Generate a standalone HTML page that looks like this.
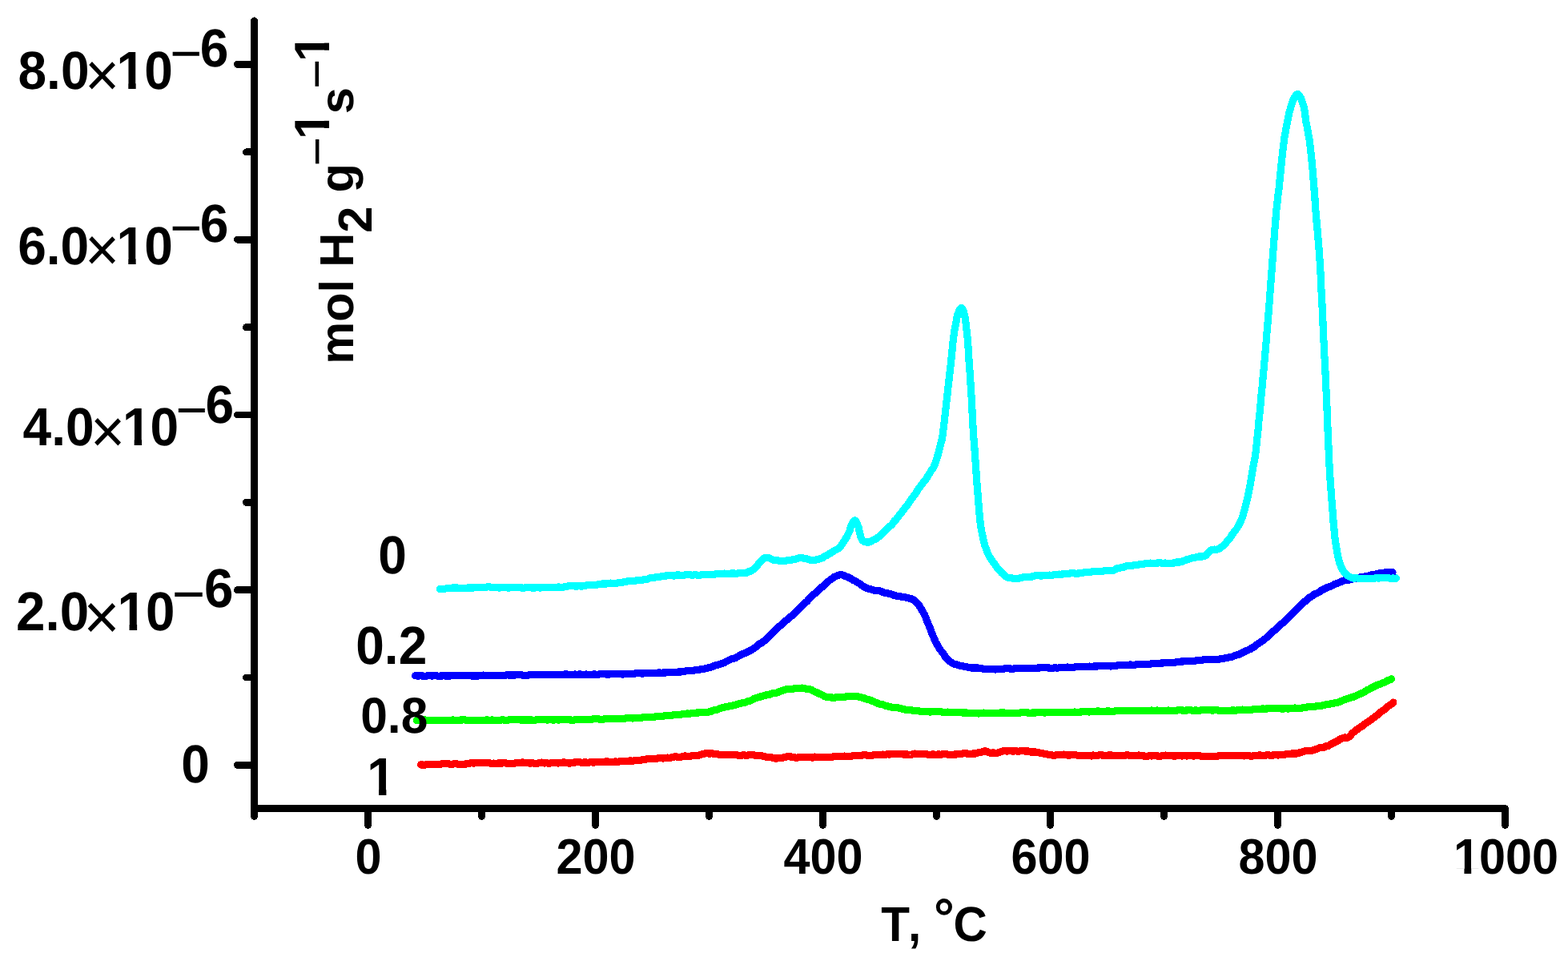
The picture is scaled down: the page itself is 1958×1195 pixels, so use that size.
<!DOCTYPE html>
<html lang="en"><head><meta charset="utf-8"><title>Chart</title>
<style>html,body{margin:0;padding:0;background:#fff;overflow:hidden}svg{display:block}text{font-family:"Liberation Sans",Arial,Helvetica,sans-serif;font-weight:bold;fill:#000;text-rendering:geometricPrecision;white-space:pre}.r{font-weight:normal}.ax{stroke:#000;stroke-width:8.8;stroke-linecap:round;stroke-linejoin:round;fill:none;shape-rendering:crispEdges}.cv{stroke-width:9.2;stroke-linecap:round;stroke-linejoin:round;fill:none;shape-rendering:crispEdges}.k{fill:#fff}</style></head><body>
<svg width="1958" height="1195" viewBox="0 0 1958 1195">
<rect width="1958" height="1195" fill="#fff"/>
<g id="curves">
<path class="cv" stroke="#f00" d="M525.5,954.9L527.1,954.9 529.0,955.4 531.1,955.0 533.5,954.8 536.0,954.8 538.8,954.2 541.6,954.4 544.7,954.5 547.8,954.8 551.1,953.9 554.5,953.8 557.9,953.4 561.4,954.1 564.9,954.2 568.4,953.4 571.9,954.2 575.4,954.5 578.8,954.2 582.2,954.0 585.5,953.2 588.7,952.7 591.7,953.1 594.7,952.6 597.4,952.5 600.0,952.5 603.6,952.2 607.0,952.6 610.3,952.7 613.5,953.3 616.5,953.1 619.5,953.2 622.3,953.0 625.1,953.1 627.9,952.9 630.6,952.6 633.3,953.3 636.0,953.7 638.8,953.6 641.5,953.4 644.3,952.8 647.1,952.4 650.0,952.3 652.9,951.9 655.9,952.7 658.8,952.5 661.8,953.1 664.7,952.7 667.6,953.3 670.6,953.4 673.5,952.3 676.5,952.1 679.4,953.0 682.4,952.8 685.3,953.3 688.2,952.8 691.2,952.2 694.1,952.6 697.1,953.0 700.0,952.5 702.9,952.0 705.9,952.1 708.8,952.9 711.8,953.0 714.7,952.2 717.6,952.0 720.6,951.7 723.5,951.5 726.5,952.3 729.4,951.9 732.4,952.1 735.3,952.1 738.2,951.7 741.2,952.2 744.1,951.5 747.1,951.9 750.0,951.3 753.0,951.4 756.0,951.0 759.1,950.9 762.2,951.7 765.3,951.7 768.4,951.0 771.6,951.4 774.7,950.6 777.7,950.3 780.8,950.8 783.8,950.6 786.7,949.7 789.6,950.4 792.3,949.5 795.0,949.1 797.6,949.5 800.0,949.1 803.8,948.6 807.4,947.9 810.6,947.4 813.6,947.7 816.5,947.2 819.3,947.3 822.0,946.9 824.8,946.6 827.6,947.0 830.6,946.4 833.7,946.1 836.8,946.3 840.0,945.3 843.2,944.7 846.3,945.4 849.5,945.4 852.5,944.5 855.6,943.9 858.5,944.3 861.3,944.5 864.7,943.4 867.9,943.6 871.1,943.4 874.1,942.6 877.1,941.8 880.0,940.9 882.9,940.2 885.8,941.1 888.9,940.7 891.9,941.3 894.7,941.2 897.5,942.1 900.5,942.4 903.7,942.3 907.2,942.2 909.9,942.9 912.8,942.3 915.8,942.3 919.0,942.7 922.2,943.3 925.4,943.2 928.6,942.8 931.8,943.4 934.9,942.9 937.9,942.5 941.2,942.8 944.4,943.4 947.7,943.4 950.9,943.8 954.0,944.5 957.1,945.2 960.1,945.2 962.9,945.6 965.5,946.5 968.9,947.1 971.8,946.8 974.5,946.5 977.1,946.2 980.1,945.3 983.8,944.7 986.4,944.5 989.1,945.6 992.1,945.8 995.2,946.3 998.4,945.2 1001.6,945.6 1004.9,945.6 1008.2,945.9 1011.4,945.4 1014.5,946.1 1017.6,945.1 1020.6,945.3 1023.7,945.5 1026.7,945.7 1029.8,945.5 1032.9,945.3 1035.9,945.2 1039.0,945.3 1042.0,944.5 1045.1,944.5 1048.2,944.8 1051.3,944.8 1054.5,944.1 1057.7,944.3 1060.8,944.4 1064.0,944.0 1067.1,943.8 1070.1,943.4 1073.0,943.4 1075.8,943.4 1079.0,942.6 1081.8,942.9 1084.4,943.4 1086.9,943.4 1089.6,943.1 1092.6,942.5 1096.0,942.6 1100.0,942.4 1102.4,942.1 1105.0,942.5 1107.8,941.6 1110.7,942.1 1113.7,941.4 1116.8,941.8 1120.0,941.8 1123.3,941.5 1126.6,941.9 1129.9,941.9 1133.2,942.0 1136.5,942.5 1139.7,941.8 1142.9,941.1 1146.0,941.2 1149.1,941.8 1152.2,941.4 1155.4,941.2 1158.6,942.1 1161.9,942.2 1165.1,941.9 1168.3,942.4 1171.5,941.9 1174.6,942.2 1177.7,941.6 1180.8,941.7 1183.7,942.2 1186.5,942.6 1189.3,942.7 1191.9,942.0 1195.7,941.9 1199.4,941.4 1203.0,940.8 1206.4,940.9 1209.6,941.2 1212.7,941.3 1215.6,941.0 1218.2,941.0 1220.5,940.1 1222.6,939.4 1226.8,938.9 1228.5,938.1 1230.2,937.7 1232.3,938.5 1234.4,939.8 1237.9,940.3 1240.0,939.9 1242.5,940.2 1245.2,940.2 1248.2,939.3 1251.3,938.1 1254.5,937.4 1257.8,938.1 1260.4,937.4 1263.1,937.9 1265.9,938.0 1268.7,937.7 1271.7,938.3 1274.6,937.6 1277.7,937.6 1280.8,938.1 1283.9,937.9 1286.7,939.0 1289.6,939.0 1292.5,939.0 1295.4,939.2 1298.4,940.3 1301.5,940.7 1304.6,941.4 1307.8,941.9 1311.1,942.5 1314.5,943.1 1317.2,943.1 1319.9,942.5 1322.6,942.7 1325.4,942.4 1328.3,942.1 1331.2,942.6 1334.1,943.2 1337.1,942.8 1340.1,942.7 1343.2,942.8 1346.3,943.3 1349.5,943.3 1352.8,943.5 1355.4,943.7 1357.9,943.4 1360.3,943.7 1362.7,944.0 1365.1,943.0 1367.5,943.7 1370.0,943.6 1372.5,942.8 1375.2,942.9 1378.0,943.1 1381.1,943.5 1384.3,943.0 1387.8,943.0 1391.5,943.4 1395.6,943.5 1400.0,943.8 1402.3,943.3 1404.8,943.3 1407.3,942.7 1410.0,943.2 1412.9,943.5 1415.8,943.5 1418.8,943.6 1421.9,943.0 1425.1,943.6 1428.4,944.0 1431.7,944.3 1435.1,943.8 1438.5,944.0 1441.9,943.4 1445.4,944.0 1448.8,944.2 1452.3,943.7 1455.7,943.1 1459.2,943.3 1462.6,943.6 1466.0,944.1 1469.3,943.9 1472.5,943.3 1475.7,944.0 1478.9,943.4 1481.9,944.1 1484.9,943.6 1487.7,943.6 1490.4,944.2 1493.0,943.7 1495.5,943.4 1497.8,943.8 1500.0,944.3 1505.0,944.6 1509.4,944.6 1513.2,944.8 1516.6,944.3 1519.6,944.7 1522.2,943.6 1524.7,943.3 1526.9,943.5 1529.1,943.2 1531.3,943.6 1533.4,943.6 1535.8,943.5 1538.3,943.8 1541.6,943.6 1544.8,943.2 1547.8,943.1 1550.7,943.7 1553.6,944.0 1556.5,943.3 1559.4,943.8 1562.4,944.2 1565.6,943.8 1568.9,943.6 1571.6,943.0 1574.4,943.1 1577.4,943.1 1580.4,943.2 1583.4,942.4 1586.5,943.3 1589.6,943.0 1592.7,942.7 1595.7,943.0 1598.7,942.7 1601.6,942.3 1604.5,942.3 1607.2,941.4 1610.6,941.3 1613.9,940.9 1617.2,941.1 1620.4,940.9 1623.5,939.6 1626.5,939.0 1629.5,937.9 1632.4,937.5 1635.2,937.6 1637.9,937.4 1641.2,936.2 1644.4,935.1 1647.4,934.0 1650.4,933.7 1653.2,933.4 1655.9,931.8 1658.4,931.5 1660.9,929.8 1664.0,928.3 1666.9,926.7 1669.5,925.7 1672.0,924.0 1674.2,922.6 1676.2,921.9 1679.3,920.8 1681.5,921.7 1683.8,920.6 1685.5,919.6 1687.2,917.5 1689.0,915.2 1691.5,913.3 1693.6,911.7 1696.0,909.9 1698.7,908.2 1701.4,906.5 1704.2,904.1 1706.8,902.1 1709.0,900.9 1711.3,899.4 1713.5,897.5 1715.8,896.1 1717.9,894.2 1720.1,892.7 1722.1,890.4 1724.9,888.7 1727.6,886.9 1730.1,885.3 1732.4,882.9 1734.4,881.1 1737.9,879.0 1739.8,877.0"/>
<path class="cv" stroke="#0f0" d="M520.4,899.4L522.0,899.3 523.7,898.9 525.6,899.6 527.7,899.2 530.0,898.9 532.3,899.3 534.9,899.2 537.5,899.6 540.3,899.2 543.2,899.6 546.1,899.3 549.2,899.3 552.3,899.6 555.6,899.6 558.9,899.7 562.2,899.6 565.6,898.9 569.0,899.4 572.5,899.3 575.9,899.0 579.4,898.8 582.9,899.2 586.4,899.2 589.8,899.5 593.3,899.5 596.6,899.6 600.0,899.3 602.8,899.3 605.6,899.2 608.5,898.9 611.5,899.3 614.5,899.0 617.6,899.2 620.8,899.5 623.9,899.3 627.2,898.8 630.4,899.2 633.7,899.2 637.0,898.8 640.3,898.5 643.6,898.7 646.9,898.4 650.2,899.1 653.5,899.0 656.8,899.0 660.0,898.9 663.3,899.0 666.5,899.3 669.6,898.9 672.7,898.8 675.8,898.9 678.8,898.7 681.7,898.9 684.6,898.9 687.4,898.8 690.1,899.0 692.7,898.9 695.2,898.5 697.7,899.1 700.0,898.8 704.2,898.7 708.2,898.6 711.8,899.0 715.2,899.2 718.4,898.9 721.3,898.6 724.2,898.2 726.8,898.7 729.4,898.3 731.9,898.4 734.4,898.2 736.8,898.1 739.3,898.1 741.8,897.8 744.4,897.6 747.1,897.9 750.0,898.2 753.0,898.1 756.0,897.6 759.1,897.8 762.2,897.3 765.3,897.3 768.4,897.6 771.6,897.7 774.7,897.3 777.7,897.4 780.8,897.0 783.8,896.8 786.7,896.7 789.6,897.0 792.3,896.8 795.0,896.4 797.6,896.4 800.0,896.3 803.8,895.8 807.4,895.9 810.6,895.8 813.6,895.6 816.5,895.6 819.3,894.7 822.0,894.7 824.8,894.6 827.6,894.2 830.6,893.8 833.7,893.9 836.9,893.5 840.0,893.0 843.2,892.4 846.4,892.8 849.6,892.3 852.7,891.6 855.7,891.3 858.5,891.0 861.3,891.2 864.5,890.6 867.6,890.3 870.5,889.9 873.3,889.9 876.0,889.5 878.7,889.3 881.5,889.3 884.3,889.2 887.2,888.7 890.0,887.3 892.9,886.5 895.7,886.1 898.6,884.7 901.5,883.8 904.3,883.2 907.2,882.4 910.1,882.0 913.1,881.5 916.2,880.7 919.2,879.8 922.1,879.0 925.0,878.3 927.7,877.5 930.2,877.2 933.8,875.8 936.9,875.0 939.7,873.7 942.6,872.0 945.5,871.1 948.5,870.4 951.3,869.2 954.2,868.8 957.3,867.7 960.9,867.3 963.4,866.1 966.1,865.6 968.9,865.2 971.9,864.3 974.9,862.9 977.9,862.0 980.9,861.0 983.8,860.4 986.7,860.5 989.8,860.3 992.9,859.4 996.0,859.3 999.0,859.4 1001.8,859.1 1004.4,859.7 1006.8,860.1 1010.7,860.7 1013.7,861.6 1016.4,863.3 1019.1,864.4 1021.9,865.5 1024.5,866.9 1027.1,868.1 1029.8,869.7 1032.6,870.3 1035.5,870.7 1038.6,871.0 1042.1,871.3 1044.8,870.6 1047.9,870.3 1051.1,870.4 1054.4,870.2 1057.5,869.7 1060.5,869.8 1063.8,869.5 1066.8,869.5 1069.8,869.6 1072.8,870.3 1075.8,870.8 1079.0,871.8 1082.2,873.2 1085.4,873.7 1088.4,874.9 1091.1,876.1 1093.7,877.2 1095.7,878.1 1100.0,879.7 1102.1,879.7 1104.6,880.8 1107.3,881.5 1110.3,882.4 1113.5,883.2 1116.8,883.3 1120.2,883.7 1123.6,884.3 1127.1,885.2 1130.6,886.2 1133.3,886.7 1136.1,886.7 1138.9,887.0 1141.8,887.4 1144.8,887.4 1147.8,888.0 1150.8,888.4 1153.8,888.5 1156.9,888.8 1159.9,888.9 1162.9,888.9 1165.9,888.7 1168.9,888.7 1171.8,888.7 1174.7,888.7 1177.6,889.5 1180.4,889.3 1183.3,889.1 1186.1,889.3 1189.0,889.2 1191.9,889.6 1194.8,889.7 1197.8,889.6 1200.9,889.9 1204.0,890.0 1207.2,890.0 1210.0,890.4 1212.9,890.2 1215.9,890.3 1218.9,890.7 1222.0,891.0 1225.0,890.6 1228.2,890.1 1231.3,890.7 1234.4,890.6 1237.6,890.3 1240.7,890.1 1243.9,890.1 1247.0,890.2 1250.1,890.0 1253.2,889.9 1256.3,890.6 1259.5,890.8 1262.6,890.2 1265.9,890.2 1269.1,890.5 1272.3,890.3 1275.6,889.8 1278.8,889.8 1281.9,889.8 1285.0,890.2 1288.0,890.1 1291.0,889.9 1293.8,889.9 1296.6,889.4 1299.2,889.7 1302.9,889.9 1306.3,889.9 1309.5,889.7 1312.5,889.5 1315.5,889.2 1318.3,889.1 1321.1,889.2 1323.9,889.5 1326.8,889.9 1329.8,889.5 1332.8,889.5 1335.8,889.6 1338.7,889.6 1341.7,889.0 1344.6,889.4 1347.6,889.2 1350.6,888.9 1353.8,888.6 1357.1,888.8 1360.5,889.0 1363.1,888.6 1365.5,888.4 1367.8,888.4 1370.0,888.0 1372.3,888.0 1374.7,888.4 1377.2,888.3 1380.0,888.4 1383.1,887.9 1386.6,888.2 1390.5,888.2 1395.0,887.7 1400.0,887.7 1402.2,887.8 1404.6,887.8 1407.1,887.8 1409.7,887.4 1412.5,887.6 1415.4,887.4 1418.3,887.7 1421.4,887.5 1424.6,887.9 1427.9,887.7 1431.2,887.3 1434.6,887.3 1438.0,887.0 1441.4,887.4 1444.9,887.0 1448.4,887.3 1451.9,887.1 1455.4,887.4 1458.9,887.0 1462.3,887.3 1465.7,887.4 1469.1,887.1 1472.4,886.8 1475.6,886.9 1478.8,887.2 1481.9,887.0 1484.8,886.6 1487.7,886.9 1490.4,887.3 1493.1,886.9 1495.5,887.4 1497.8,887.2 1500.0,886.9 1505.3,886.6 1509.8,886.8 1513.6,887.0 1516.8,886.9 1519.7,886.8 1522.2,887.1 1524.5,887.1 1526.7,887.3 1528.9,887.4 1531.2,887.6 1533.8,887.6 1536.8,887.2 1539.7,886.9 1542.7,887.3 1545.7,886.7 1548.6,886.4 1551.6,886.1 1554.6,886.5 1557.6,886.3 1560.7,886.4 1563.8,886.1 1566.9,885.6 1570.1,885.3 1573.3,885.4 1576.6,884.9 1579.5,885.2 1582.5,884.9 1585.6,884.4 1588.8,884.5 1592.0,884.6 1595.3,884.3 1598.5,884.8 1601.8,885.1 1605.0,884.8 1608.2,885.0 1611.3,884.8 1614.3,884.6 1617.2,884.0 1620.0,884.4 1622.6,884.5 1626.3,883.9 1629.8,883.5 1633.2,882.8 1636.3,882.8 1639.3,882.8 1642.2,882.2 1645.1,881.6 1647.8,881.4 1650.5,881.2 1653.2,880.3 1656.4,879.7 1659.5,879.4 1662.4,878.4 1665.2,878.3 1667.9,877.4 1670.6,877.1 1673.4,876.1 1676.2,874.9 1679.1,873.7 1682.1,872.6 1685.2,871.5 1688.2,870.8 1691.1,869.8 1694.0,868.5 1696.7,867.0 1699.2,866.1 1702.2,864.9 1704.9,863.3 1707.3,861.6 1709.7,860.6 1712.0,859.2 1714.5,857.9 1717.1,856.8 1719.9,855.3 1722.6,854.7 1725.3,853.3 1727.7,852.6 1729.8,851.7 1733.2,849.6 1735.8,848.9 1737.5,847.9"/>
<path class="cv" stroke="#00f" d="M518.6,843.8L520.2,843.9 522.1,844.1 524.2,843.7 526.6,843.9 529.1,844.2 531.8,844.3 534.7,843.7 537.7,843.9 540.9,843.9 544.1,843.8 547.5,844.2 550.9,844.0 554.4,843.8 557.9,844.1 561.5,844.0 565.1,843.7 568.6,843.5 572.2,843.6 575.7,843.2 579.1,843.6 582.5,843.8 585.7,843.7 588.9,844.0 591.9,844.1 594.8,843.9 597.5,843.9 600.0,843.4 603.8,843.1 607.3,843.8 610.7,843.4 613.9,843.2 617.0,843.7 620.0,843.8 622.8,843.3 625.6,843.2 628.3,843.1 631.0,843.1 633.6,842.8 636.3,843.1 638.9,843.0 641.6,843.1 644.3,842.9 647.1,842.7 650.0,842.6 652.9,843.2 655.9,843.4 658.8,843.2 661.8,842.8 664.7,842.6 667.6,842.4 670.6,842.5 673.5,842.3 676.5,842.3 679.4,842.2 682.4,842.2 685.3,842.5 688.2,842.5 691.2,842.5 694.1,842.3 697.1,842.4 700.0,842.6 702.9,842.3 705.9,841.9 708.8,842.1 711.8,842.1 714.7,842.5 717.6,842.0 720.6,842.5 723.5,841.9 726.5,842.2 729.4,842.2 732.4,842.0 735.3,842.5 738.2,842.5 741.2,842.0 744.1,842.1 747.1,842.2 750.0,841.7 753.0,841.5 756.0,841.9 759.1,842.1 762.2,841.9 765.3,841.8 768.4,841.7 771.6,841.5 774.7,841.8 777.7,842.0 780.8,841.7 783.8,841.1 786.7,841.1 789.6,841.4 792.3,841.1 795.0,840.7 797.6,840.5 800.0,840.9 803.8,840.9 807.4,840.5 810.6,840.5 813.6,840.6 816.5,840.7 819.3,840.5 822.0,840.0 824.8,840.1 827.6,840.1 830.6,840.0 833.7,839.7 836.9,839.4 840.0,839.2 843.2,839.3 846.4,839.1 849.6,839.0 852.7,838.5 855.7,838.0 858.5,837.8 861.3,837.8 864.5,837.5 867.6,836.8 870.5,836.2 873.3,836.4 876.0,835.3 878.7,835.2 881.5,834.7 884.3,833.8 887.2,833.4 890.0,832.4 892.9,830.9 895.7,830.5 898.6,829.3 901.5,828.6 904.3,827.6 907.2,825.9 910.1,824.4 912.9,823.0 915.8,822.4 918.7,821.4 921.6,819.7 924.4,818.1 927.3,816.7 930.2,815.6 932.8,814.3 935.5,813.0 938.2,811.6 940.8,809.9 943.5,808.2 946.1,805.8 948.6,803.8 951.0,802.8 953.2,801.2 955.8,799.0 958.1,796.7 960.3,794.7 962.3,792.7 964.4,790.9 966.4,788.9 968.5,786.7 970.7,784.5 972.9,782.5 975.1,780.5 977.2,778.5 979.4,776.8 981.6,774.7 983.8,773.2 986.0,771.3 988.2,769.3 990.4,767.5 992.6,765.2 994.8,763.0 997.0,760.9 999.2,759.0 1001.4,757.0 1003.6,754.7 1005.8,752.5 1007.9,750.8 1010.1,748.0 1012.3,746.0 1014.5,743.9 1016.7,741.7 1019.0,740.0 1021.4,737.6 1023.7,735.3 1025.9,733.3 1027.9,732.2 1029.8,730.2 1032.5,727.4 1034.8,725.7 1036.8,723.8 1039.0,722.4 1042.1,720.2 1045.1,719.1 1048.2,717.8 1051.2,717.8 1054.2,718.9 1057.4,720.0 1059.9,721.3 1062.6,722.5 1065.3,724.4 1068.1,725.5 1070.5,727.2 1073.0,728.6 1075.5,730.2 1078.0,732.3 1080.4,733.4 1083.2,734.9 1086.0,735.4 1088.6,736.3 1091.1,737.1 1093.8,737.5 1096.3,737.3 1100.0,738.3 1102.3,739.3 1104.9,740.2 1107.8,740.8 1110.9,741.6 1114.0,742.3 1117.0,743.7 1119.9,744.1 1123.2,744.8 1126.5,745.2 1129.9,745.8 1133.0,746.5 1135.9,747.3 1138.3,747.8 1141.7,749.6 1143.8,751.9 1146.0,754.0 1147.5,755.7 1149.0,758.0 1150.6,760.7 1152.1,763.5 1153.6,766.1 1154.7,767.8 1155.8,770.8 1156.9,773.7 1158.0,776.5 1159.1,779.0 1160.2,781.5 1161.3,784.3 1162.4,787.2 1163.5,790.2 1164.6,792.7 1165.6,795.3 1166.7,797.7 1167.8,800.3 1168.9,802.6 1170.4,805.3 1172.0,808.0 1173.5,810.7 1175.1,812.6 1176.6,814.5 1178.5,817.1 1180.3,820.0 1182.2,821.9 1184.3,824.2 1186.7,826.3 1189.2,828.0 1191.9,829.4 1195.0,830.1 1197.6,830.9 1200.3,831.8 1203.3,832.0 1206.6,832.7 1210.3,833.5 1212.9,834.1 1215.6,834.0 1218.4,834.0 1221.4,834.1 1224.5,834.6 1227.8,835.1 1231.2,835.2 1234.8,835.8 1237.5,835.8 1240.2,835.8 1243.0,836.0 1245.9,835.5 1248.8,835.5 1251.8,835.2 1255.0,834.9 1258.2,834.6 1261.5,835.0 1264.9,835.2 1268.5,834.5 1271.2,834.7 1274.0,834.3 1276.9,834.3 1279.9,834.3 1282.9,834.7 1286.0,834.5 1289.2,834.4 1292.3,834.3 1295.5,834.1 1298.7,833.9 1301.9,833.7 1305.1,833.5 1308.3,833.9 1311.4,834.2 1314.5,834.2 1317.6,833.8 1320.7,834.2 1323.8,833.5 1326.9,833.5 1330.1,833.3 1333.2,833.0 1336.3,833.5 1339.5,833.5 1342.6,832.9 1345.6,832.6 1348.7,832.9 1351.7,832.7 1354.7,832.4 1357.6,832.2 1360.5,832.1 1363.7,832.2 1366.8,832.0 1369.8,832.1 1372.8,831.6 1375.7,831.7 1378.6,831.8 1381.4,831.5 1384.3,831.8 1387.3,832.0 1390.3,831.7 1393.4,831.3 1396.6,830.8 1400.0,830.9 1402.7,830.6 1405.4,830.3 1408.2,830.3 1411.0,830.0 1413.9,830.2 1416.9,830.2 1419.8,829.5 1422.8,829.7 1425.9,829.2 1428.9,829.1 1431.9,829.2 1435.0,829.4 1438.0,828.8 1441.0,828.8 1444.1,828.4 1447.0,828.6 1450.0,827.9 1453.0,827.9 1456.0,827.2 1459.1,827.2 1462.2,827.3 1465.3,827.3 1468.4,827.0 1471.6,826.5 1474.7,826.1 1477.7,825.9 1480.8,825.7 1483.8,825.4 1486.7,825.3 1489.6,825.1 1492.3,825.1 1495.0,824.7 1497.6,824.6 1500.0,824.3 1503.9,823.7 1507.5,823.7 1510.9,823.2 1514.1,823.3 1517.2,823.3 1520.1,823.3 1522.8,823.1 1525.5,822.7 1528.1,822.2 1530.6,821.5 1534.0,821.0 1537.1,820.6 1540.0,819.5 1542.7,818.3 1545.3,817.8 1547.9,817.0 1550.6,815.4 1553.3,814.0 1555.8,812.7 1558.3,811.8 1560.8,810.8 1563.4,809.0 1566.1,807.7 1568.9,805.3 1571.0,803.7 1573.2,802.4 1575.5,801.0 1577.8,799.1 1580.1,797.4 1582.5,795.2 1584.9,793.2 1587.2,791.2 1589.6,788.8 1591.9,786.7 1594.0,784.9 1596.2,783.3 1598.4,780.9 1600.6,778.7 1602.8,777.2 1605.0,775.0 1607.1,772.6 1609.2,770.8 1611.2,768.8 1613.1,767.1 1614.9,765.1 1617.5,762.6 1619.9,759.7 1622.2,757.6 1624.3,755.6 1626.3,753.6 1628.2,751.8 1630.2,750.6 1632.8,748.2 1635.0,746.3 1637.3,744.9 1639.7,743.2 1642.5,741.4 1644.8,740.7 1647.4,739.2 1650.1,737.2 1652.9,736.0 1655.7,734.3 1658.4,733.1 1660.9,732.3 1664.0,731.1 1666.9,729.4 1669.7,728.4 1672.7,727.2 1676.2,725.6 1678.8,724.9 1681.6,724.6 1684.6,724.0 1687.7,723.3 1690.8,722.8 1693.8,721.7 1696.6,721.2 1699.2,720.8 1702.8,720.2 1705.9,719.6 1708.7,719.1 1711.6,718.2 1714.5,717.5 1717.7,717.1 1720.9,716.2 1724.1,715.7 1727.1,715.3 1729.8,714.8 1733.7,714.4 1736.8,714.7 1739.0,714.7"/>
<path class="cv" stroke="#0ff" d="M549.4,735.6L551.1,735.5 553.0,735.8 555.3,735.2 557.8,734.8 560.6,734.4 563.5,734.2 566.7,733.9 569.9,733.9 573.3,734.2 576.7,734.7 580.1,734.6 583.6,734.1 587.1,733.9 590.5,734.0 593.8,733.6 597.0,733.1 600.0,733.7 603.0,733.8 605.9,733.2 608.9,732.9 611.8,732.8 614.7,733.7 617.7,733.2 620.6,733.6 623.6,734.2 626.5,733.4 629.4,733.5 632.4,733.7 635.3,734.2 638.2,733.7 641.2,733.6 644.1,733.5 647.1,733.2 650.0,733.8 652.9,734.2 655.9,733.9 658.8,733.3 661.8,733.8 664.7,734.0 667.6,734.0 670.6,733.6 673.5,734.0 676.5,733.9 679.4,733.8 682.4,733.6 685.3,733.2 688.2,733.2 691.2,733.5 694.1,733.4 697.1,733.0 700.0,733.2 702.9,733.3 705.9,732.4 708.8,732.0 711.8,731.8 714.7,731.4 717.6,732.0 720.6,732.0 723.5,731.8 726.5,732.1 729.4,731.5 732.4,730.9 735.3,730.4 738.2,730.3 741.2,730.7 744.1,730.5 747.1,729.7 750.0,729.5 753.0,728.9 756.1,729.1 759.2,728.5 762.4,728.1 765.6,728.2 768.9,728.3 772.1,727.9 775.3,727.2 778.5,727.0 781.6,726.4 784.6,725.6 787.5,725.3 790.3,725.5 793.0,725.3 795.5,724.6 797.8,724.8 800.0,724.8 804.3,723.6 807.6,723.5 810.1,722.4 812.2,721.4 814.3,721.1 816.8,721.2 819.9,720.6 822.6,720.3 825.4,719.9 828.5,719.3 831.6,719.0 834.9,718.8 838.1,718.7 841.4,719.1 844.6,718.1 847.7,717.9 850.6,718.4 853.7,718.3 856.6,717.6 859.4,717.6 862.2,717.9 865.0,718.3 867.8,717.6 870.6,718.1 873.5,718.2 876.6,717.7 879.5,717.6 882.5,717.9 885.6,717.3 888.8,717.5 892.0,717.3 895.2,716.6 898.3,716.5 901.4,716.5 904.4,716.1 907.2,716.8 910.7,716.2 914.1,715.9 917.5,716.1 920.7,716.1 923.9,715.7 926.8,715.4 929.4,715.3 931.8,715.4 935.5,713.6 938.0,712.9 940.2,711.5 942.5,709.4 944.7,707.3 947.0,704.3 949.3,702.1 951.4,699.6 953.2,697.8 956.5,696.1 959.3,696.1 962.1,697.5 965.5,699.2 967.9,699.1 970.6,699.7 973.4,700.5 976.2,700.5 978.9,700.3 981.5,700.2 984.2,699.6 986.9,699.2 989.6,698.9 992.3,698.3 995.0,697.7 997.6,696.9 1000.8,696.4 1003.9,697.3 1006.8,697.7 1009.4,698.5 1011.9,699.5 1014.5,699.7 1017.5,699.6 1020.6,698.6 1023.7,697.9 1026.8,696.9 1029.8,694.5 1032.9,693.4 1036.0,691.3 1039.2,689.3 1042.1,687.4 1044.8,686.1 1047.3,684.7 1049.7,682.6 1051.4,679.6 1053.0,677.0 1054.5,674.9 1055.9,672.7 1057.6,670.1 1059.1,667.0 1060.5,664.2 1061.6,660.8 1062.5,657.6 1063.5,654.9 1065.3,651.4 1067.3,649.8 1068.8,651.0 1070.4,654.1 1071.9,658.0 1072.8,661.6 1073.5,664.8 1074.2,668.3 1075.0,671.0 1076.8,674.5 1078.8,676.2 1080.9,676.9 1083.4,676.9 1085.7,676.9 1088.3,675.6 1091.1,674.0 1093.2,673.4 1095.4,671.8 1097.6,670.2 1100.0,667.8 1102.0,665.7 1104.2,663.9 1106.3,662.0 1108.5,659.6 1110.7,657.5 1112.9,655.9 1115.1,653.3 1117.2,650.2 1119.4,648.3 1121.4,645.5 1123.3,642.8 1125.2,640.8 1127.0,638.5 1128.8,635.8 1130.6,633.7 1132.4,631.6 1134.3,628.7 1136.1,626.2 1138.0,623.2 1139.8,621.1 1141.3,618.7 1142.9,616.7 1144.4,614.6 1145.9,611.9 1147.5,609.8 1149.0,608.0 1150.9,604.7 1152.8,602.7 1154.6,600.1 1156.5,598.2 1158.2,595.0 1159.9,592.5 1161.5,589.8 1163.1,587.3 1164.6,585.6 1165.9,583.0 1167.3,579.8 1168.4,577.4 1169.5,573.6 1170.5,569.9 1171.3,567.7 1172.1,564.7 1172.9,561.9 1173.6,558.5 1174.3,555.9 1174.9,553.0 1175.5,550.8 1176.1,549.4 1176.7,546.3 1177.4,541.1 1177.7,538.7 1178.0,536.3 1178.3,534.6 1178.6,532.2 1178.9,528.9 1179.2,526.5 1179.5,523.6 1179.9,520.4 1180.2,517.2 1180.6,513.7 1180.9,510.7 1181.3,507.2 1181.6,504.5 1182.0,501.2 1182.3,498.2 1182.6,495.5 1183.0,492.6 1183.4,489.0 1183.7,485.2 1184.1,482.1 1184.5,479.4 1184.9,475.6 1185.2,472.2 1185.6,468.9 1186.0,465.7 1186.3,463.3 1186.7,460.3 1187.0,456.9 1187.3,454.4 1187.6,452.0 1188.0,447.7 1188.3,444.1 1188.7,440.6 1189.0,438.1 1189.2,435.0 1189.5,431.6 1189.8,428.9 1190.1,426.1 1190.4,423.8 1190.7,421.1 1191.2,417.8 1191.7,414.5 1192.2,410.9 1192.7,408.1 1193.2,405.6 1193.8,403.0 1194.2,400.6 1194.7,398.0 1195.5,394.0 1196.2,391.9 1196.9,390.0 1197.6,388.3 1199.0,385.9 1200.4,384.4 1201.7,385.6 1203.0,387.9 1203.6,389.9 1204.2,392.4 1204.8,394.8 1205.4,398.5 1205.7,401.1 1206.0,403.2 1206.4,405.5 1206.7,409.0 1207.0,411.9 1207.4,414.7 1207.7,417.7 1208.0,420.7 1208.2,423.2 1208.5,426.9 1208.7,429.6 1208.9,432.6 1209.1,435.0 1209.3,438.5 1209.5,441.7 1209.7,445.3 1209.9,448.4 1210.2,452.5 1210.4,454.9 1210.6,457.0 1210.8,460.5 1211.0,463.1 1211.2,466.6 1211.4,469.6 1211.6,472.5 1211.8,475.7 1212.0,478.8 1212.2,481.7 1212.4,484.7 1212.6,487.8 1212.8,491.9 1213.0,494.7 1213.2,497.3 1213.4,500.6 1213.5,504.0 1213.7,507.3 1213.9,510.8 1214.0,513.5 1214.2,517.1 1214.4,519.4 1214.5,522.2 1214.7,525.5 1214.8,528.7 1214.9,531.5 1215.1,534.5 1215.2,537.0 1215.4,538.8 1215.5,541.2 1215.8,545.7 1216.0,548.9 1216.3,551.7 1216.5,554.8 1216.7,557.3 1217.0,560.5 1217.2,563.7 1217.4,565.9 1217.6,568.0 1217.7,570.6 1217.9,573.6 1218.1,576.5 1218.3,579.5 1218.5,582.2 1218.7,585.5 1218.9,588.5 1219.1,591.8 1219.3,594.4 1219.6,597.8 1219.8,600.9 1220.0,604.5 1220.3,607.7 1220.5,610.3 1220.8,613.8 1221.0,616.5 1221.3,620.2 1221.5,622.7 1221.8,626.0 1222.0,629.4 1222.3,632.4 1222.5,635.5 1222.8,638.7 1223.0,641.3 1223.3,644.5 1223.7,647.7 1224.0,651.2 1224.3,654.6 1224.7,656.7 1225.1,660.0 1225.6,662.4 1226.2,665.5 1226.8,668.2 1227.5,672.0 1228.2,674.7 1228.9,677.7 1229.7,681.0 1230.7,683.5 1231.6,686.1 1232.7,689.5 1233.9,691.8 1235.2,694.4 1236.8,697.1 1238.5,699.4 1240.4,702.1 1242.2,704.3 1244.0,707.4 1246.2,710.1 1248.4,712.2 1250.5,715.1 1252.4,716.7 1255.4,719.9 1257.6,720.8 1260.0,721.8 1263.0,721.8 1265.4,722.2 1268.4,722.3 1272.0,722.2 1276.2,721.1 1278.6,720.7 1281.2,720.9 1284.0,720.8 1286.9,720.7 1289.9,719.5 1293.0,718.8 1296.1,718.7 1299.2,719.0 1302.0,718.9 1304.9,718.4 1307.8,718.4 1310.8,718.1 1313.8,718.2 1316.7,717.6 1319.6,717.8 1322.4,717.1 1325.0,717.2 1328.2,716.8 1331.2,716.6 1334.1,716.3 1336.9,715.9 1339.6,715.7 1342.3,716.1 1345.1,716.1 1348.3,715.9 1351.3,715.2 1354.3,714.9 1357.4,714.7 1360.6,714.6 1364.0,713.7 1366.8,713.7 1369.9,713.6 1373.2,713.6 1376.4,713.4 1379.7,712.7 1382.7,712.9 1385.5,712.7 1388.0,712.6 1391.4,712.0 1393.6,710.6 1396.0,709.3 1400.0,708.9 1402.3,708.6 1404.8,707.4 1407.6,706.7 1410.5,706.4 1413.7,706.3 1416.9,705.3 1420.3,705.3 1423.7,704.6 1427.1,704.4 1430.6,703.8 1433.3,703.4 1436.2,703.1 1439.2,703.5 1442.3,703.6 1445.5,703.0 1448.6,702.7 1451.8,703.4 1454.9,703.0 1458.0,703.6 1460.9,703.8 1463.8,703.6 1466.4,702.7 1468.9,702.0 1472.6,702.1 1476.0,701.2 1479.1,699.9 1482.0,698.8 1484.7,698.1 1487.3,697.2 1489.6,696.3 1491.9,696.3 1495.8,695.2 1498.9,694.9 1501.6,695.0 1504.2,694.4 1506.7,692.9 1509.0,690.1 1511.2,687.6 1513.4,686.4 1516.4,686.1 1519.4,686.2 1522.6,685.3 1524.7,683.6 1526.8,681.9 1529.1,680.1 1531.2,677.6 1533.3,674.7 1535.3,672.9 1537.2,669.8 1539.0,667.0 1540.8,664.6 1542.5,662.2 1544.2,660.3 1545.8,657.7 1547.4,654.7 1548.8,651.9 1550.1,648.9 1551.2,646.4 1552.1,643.4 1553.0,640.1 1553.8,637.4 1554.7,634.1 1555.4,631.1 1556.1,628.8 1556.8,625.3 1557.5,622.9 1558.2,619.7 1558.9,616.6 1559.6,613.7 1560.1,610.8 1560.6,607.9 1561.2,604.7 1561.7,602.1 1562.2,599.3 1562.7,596.4 1563.2,592.8 1563.7,590.3 1564.2,587.1 1564.7,583.9 1565.1,581.4 1565.6,579.0 1566.0,576.7 1566.4,574.6 1566.9,572.3 1567.4,569.1 1567.9,565.5 1568.5,560.8 1568.7,558.3 1569.0,556.1 1569.3,553.7 1569.6,550.7 1569.8,548.1 1570.1,545.0 1570.4,542.2 1570.8,539.2 1571.1,536.2 1571.4,532.6 1571.7,528.7 1572.0,525.1 1572.3,522.4 1572.7,519.2 1573.0,516.3 1573.3,512.4 1573.6,509.6 1573.9,506.8 1574.2,503.3 1574.5,499.6 1574.8,497.0 1575.0,493.6 1575.3,491.4 1575.6,488.5 1575.9,485.0 1576.2,482.3 1576.5,478.8 1576.8,476.1 1577.0,472.7 1577.3,470.1 1577.6,466.6 1577.8,463.8 1578.1,461.0 1578.3,458.8 1578.6,456.2 1578.8,452.7 1579.1,449.9 1579.3,447.6 1579.6,445.2 1579.8,441.9 1580.1,438.6 1580.3,436.2 1580.6,432.7 1580.8,430.0 1581.1,426.9 1581.3,423.6 1581.6,420.5 1581.8,417.9 1582.0,414.8 1582.3,412.4 1582.5,409.9 1582.8,407.1 1583.0,404.0 1583.2,401.1 1583.5,398.4 1583.7,395.0 1584.0,392.1 1584.2,388.6 1584.5,385.8 1584.7,383.2 1584.9,379.8 1585.2,377.0 1585.4,373.5 1585.6,371.2 1585.8,367.4 1586.1,364.2 1586.3,361.2 1586.5,358.5 1586.8,355.3 1587.0,351.7 1587.2,348.9 1587.5,345.3 1587.7,342.2 1587.9,339.8 1588.2,336.6 1588.4,332.8 1588.6,329.7 1588.9,326.7 1589.1,323.7 1589.3,321.3 1589.5,317.8 1589.8,314.9 1590.0,311.6 1590.3,308.7 1590.5,305.1 1590.8,301.2 1591.0,298.5 1591.2,295.4 1591.5,291.7 1591.7,288.8 1591.9,285.5 1592.2,283.3 1592.4,280.2 1592.7,277.5 1592.9,274.5 1593.1,271.6 1593.4,269.1 1593.6,265.7 1593.9,262.2 1594.2,259.3 1594.6,256.0 1594.9,253.6 1595.2,250.4 1595.5,247.9 1595.8,245.2 1596.1,242.4 1596.5,240.1 1596.8,237.6 1597.1,234.9 1597.5,231.2 1597.8,228.0 1598.1,224.7 1598.4,222.2 1598.7,219.2 1599.0,215.9 1599.3,212.6 1599.7,209.2 1600.0,205.7 1600.3,202.6 1600.6,199.7 1601.0,196.0 1601.3,192.8 1601.6,189.8 1601.9,187.4 1602.3,184.6 1602.6,182.3 1603.1,178.2 1603.6,174.3 1604.1,170.8 1604.7,167.3 1605.2,164.6 1605.7,161.7 1606.2,158.9 1606.7,156.5 1607.2,153.9 1607.7,151.2 1608.5,147.6 1609.2,143.7 1609.9,140.9 1610.6,137.9 1611.3,135.6 1612.0,133.4 1613.1,129.8 1614.2,126.4 1615.2,124.3 1616.3,121.8 1618.4,118.5 1620.4,117.4 1622.3,119.2 1624.3,122.2 1625.4,124.9 1626.4,127.7 1627.5,131.1 1628.4,134.0 1628.9,137.1 1629.2,139.3 1629.5,141.3 1629.9,144.4 1630.3,148.0 1630.8,151.4 1631.2,153.9 1631.7,155.9 1632.2,158.5 1632.7,161.4 1633.3,164.1 1633.8,167.7 1634.4,170.5 1635.0,174.3 1635.5,178.2 1636.0,181.5 1636.3,184.9 1636.6,187.6 1637.0,190.6 1637.3,193.7 1637.6,196.6 1637.9,199.6 1638.2,202.9 1638.5,206.3 1638.8,209.3 1639.1,212.0 1639.4,216.0 1639.6,218.8 1639.9,222.4 1640.2,225.8 1640.4,227.7 1640.7,231.4 1640.9,234.0 1641.1,237.3 1641.3,240.1 1641.5,242.3 1641.7,245.3 1641.9,247.4 1642.1,250.8 1642.3,253.5 1642.5,256.8 1642.7,259.5 1642.9,262.9 1643.2,265.9 1643.4,268.4 1643.6,270.7 1643.9,274.1 1644.1,277.5 1644.4,280.1 1644.7,282.5 1644.9,285.3 1645.2,288.4 1645.5,292.2 1645.8,295.1 1646.0,298.4 1646.3,302.1 1646.6,305.4 1646.8,307.9 1647.1,311.9 1647.3,315.1 1647.6,317.8 1647.8,320.7 1648.0,324.4 1648.2,327.0 1648.4,330.2 1648.5,333.0 1648.7,336.5 1648.9,339.5 1649.1,342.8 1649.2,346.3 1649.4,348.7 1649.5,351.8 1649.7,355.4 1649.8,358.8 1650.0,362.1 1650.1,364.8 1650.3,368.0 1650.4,370.9 1650.6,374.3 1650.7,376.6 1650.9,379.2 1651.0,382.0 1651.2,385.3 1651.3,388.9 1651.5,392.1 1651.6,394.8 1651.7,397.4 1651.9,400.5 1652.0,404.2 1652.1,406.5 1652.3,410.0 1652.4,412.6 1652.5,415.6 1652.7,418.3 1652.8,421.7 1652.9,424.7 1653.1,427.5 1653.2,430.2 1653.4,433.2 1653.5,435.8 1653.6,439.1 1653.8,442.5 1653.9,444.8 1654.1,447.9 1654.2,451.0 1654.4,454.1 1654.5,457.6 1654.7,460.4 1654.9,463.3 1655.0,465.8 1655.2,468.9 1655.3,472.6 1655.5,475.7 1655.6,479.0 1655.8,482.4 1655.9,485.6 1656.1,488.8 1656.2,492.2 1656.3,495.1 1656.5,497.9 1656.6,500.7 1656.7,503.2 1656.9,507.1 1657.0,510.1 1657.1,513.1 1657.2,516.3 1657.4,520.0 1657.5,523.4 1657.6,526.2 1657.8,529.1 1657.9,532.3 1658.0,535.2 1658.1,538.6 1658.2,542.1 1658.4,544.7 1658.5,547.0 1658.6,550.4 1658.7,552.4 1658.9,555.9 1659.0,559.7 1659.2,563.3 1659.3,566.3 1659.4,569.0 1659.6,571.9 1659.7,575.4 1659.8,578.5 1660.0,580.5 1660.1,583.3 1660.2,586.0 1660.4,588.7 1660.5,590.3 1660.7,593.3 1660.9,596.3 1661.1,599.7 1661.3,602.2 1661.5,605.6 1661.7,607.8 1661.9,610.7 1662.2,613.3 1662.4,617.2 1662.6,619.5 1662.8,622.1 1663.0,625.0 1663.3,628.0 1663.5,630.9 1663.7,634.7 1664.0,637.3 1664.2,640.4 1664.4,643.1 1664.7,646.4 1664.9,649.3 1665.1,652.3 1665.4,655.0 1665.7,658.9 1666.0,661.3 1666.2,664.2 1666.5,667.5 1666.8,670.3 1667.1,673.0 1667.4,674.9 1667.9,677.9 1668.3,681.3 1668.9,684.5 1669.4,687.8 1669.9,690.2 1670.4,693.2 1671.1,696.1 1671.7,699.2 1672.5,702.1 1673.5,704.7 1674.8,708.0 1676.3,711.1 1678.0,713.8 1679.8,715.9 1682.1,718.1 1684.6,719.8 1688.2,721.5 1690.7,722.2 1693.5,721.8 1696.6,722.3 1699.9,722.4 1703.3,722.2 1706.8,722.1 1709.5,722.4 1712.5,722.7 1715.5,722.4 1718.6,721.7 1721.7,722.0 1724.6,721.7 1727.3,721.4 1729.8,721.8 1733.4,721.7 1736.6,722.2 1739.5,722.0 1741.9,722.4 1743.6,722.0"/>
</g>
<path class="ax" d="M317.6,25.76V1019.5M317.6,1009.5H1879.6M459.6,1009.5v21M601.6,1009.5v10M743.6,1009.5v21M885.6,1009.5v10M1027.6,1009.5v21M1169.6,1009.5v10M1311.6,1009.5v21M1453.6,1009.5v10M1595.6,1009.5v21M1737.6,1009.5v10M1879.6,1009.5v21M317.6,955.45h-21.2M317.6,846.08h-10.2M317.6,736.7h-21.2M317.6,627.33h-10.2M317.6,517.95h-21.2M317.6,408.58h-10.2M317.6,299.2h-21.2M317.6,189.83h-10.2M317.6,80.45h-21.2"/>
<g id="xlabels">
<g transform="translate(0,1091.4) scale(1,1.05)"><text><tspan x="443.48" y="0" font-size="59.4">0</tspan></text></g>
<g transform="translate(0,1091.4) scale(1,1.05)"><text><tspan x="694.45" y="0" font-size="59.4">200</tspan></text></g>
<g transform="translate(0,1091.4) scale(1,1.05)"><text><tspan x="978.45" y="0" font-size="59.4">400</tspan></text></g>
<g transform="translate(0,1091.4) scale(1,1.05)"><text><tspan x="1262.45" y="0" font-size="59.4">600</tspan></text></g>
<g transform="translate(0,1091.4) scale(1,1.05)"><text><tspan x="1546.45" y="0" font-size="59.4">800</tspan></text></g>
<g transform="translate(0,1091.4) scale(1,1.05)"><text><tspan x="1814.88" y="0" font-size="59.4">1</tspan><tspan x="1846.96" y="0" font-size="59.4">000</tspan></text><rect class="k" x="1816.66" y="-6.73" width="11.78" height="7.66"/><rect class="k" x="1837.19" y="-6.73" width="10.36" height="7.66"/></g>
</g>
<g id="ylabels">
<g transform="translate(0,111.3) scale(1,1.045)"><text><tspan x="22.5" y="0" font-size="64">8.0</tspan><tspan class="r" x="105.98" y="8.74" font-size="73.8">×</tspan><tspan x="145.62" y="0" font-size="64">1</tspan><tspan x="180.19" y="0" font-size="64">0</tspan><tspan class="r" x="212.32" y="-19.22" font-size="68.5">−</tspan><tspan x="249.7" y="-26.7" font-size="64">6</tspan></text><rect class="k" x="147.54" y="-7.2" width="12.72" height="8.13"/><rect class="k" x="169.64" y="-7.2" width="11.18" height="8.13"/></g>
<g transform="translate(0,329.7) scale(1,1.045)"><text><tspan x="22.2" y="0" font-size="64">6.0</tspan><tspan class="r" x="105.98" y="8.21" font-size="73.8">×</tspan><tspan x="145.62" y="0" font-size="64">1</tspan><tspan x="180.19" y="0" font-size="64">0</tspan><tspan class="r" x="212.32" y="-19.7" font-size="68.5">−</tspan><tspan x="249.7" y="-26.7" font-size="64">6</tspan></text><rect class="k" x="147.54" y="-7.2" width="12.72" height="8.13"/><rect class="k" x="169.64" y="-7.2" width="11.18" height="8.13"/></g>
<g transform="translate(0,556.1) scale(1,1.045)"><text><tspan x="28.6" y="0" font-size="64">4.0</tspan><tspan class="r" x="112.88" y="8.98" font-size="73.8">×</tspan><tspan x="153.02" y="0" font-size="64">1</tspan><tspan x="187.59" y="0" font-size="64">0</tspan><tspan class="r" x="219.55" y="-19.33" font-size="67.9">−</tspan><tspan x="256.6" y="-26.79" font-size="64">6</tspan></text><rect class="k" x="154.94" y="-7.2" width="12.72" height="8.13"/><rect class="k" x="177.04" y="-7.2" width="11.18" height="8.13"/></g>
<g transform="translate(0,787.1) scale(1,1.045)"><text><tspan x="20.1" y="0" font-size="65.5">2.0</tspan><tspan class="r" x="104.22" y="10.15" font-size="77.6">×</tspan><tspan x="146.55" y="0" font-size="65.5">1</tspan><tspan x="181.93" y="0" font-size="65.5">0</tspan><tspan class="r" x="214.8" y="-19.26" font-size="71">−</tspan><tspan x="255" y="-28.13" font-size="65.5">6</tspan></text><rect class="k" x="148.51" y="-7.36" width="13.02" height="8.29"/><rect class="k" x="171.12" y="-7.36" width="11.45" height="8.29"/></g>
<g transform="translate(0,977) scale(1,1.045)"><text><tspan x="226.37" y="0" font-size="64">0</tspan></text></g>
</g>
<g id="curvelabels">
<g transform="translate(0,716.1) scale(1,1.045)"><text><tspan x="472.37" y="0" font-size="64">0</tspan></text></g>
<g transform="translate(0,829.4) scale(1,1.045)"><text><tspan x="444.27" y="0" font-size="64">0.2</tspan></text></g>
<g transform="translate(0,915.1) scale(1,1.045)"><text><tspan x="450.2" y="0" font-size="60.5">0.8</tspan></text></g>
<g transform="translate(0,993.4) scale(1,1.045)"><text><tspan x="458.35" y="0" font-size="64">1</tspan></text><rect class="k" x="460.27" y="-7.2" width="12.72" height="8.13"/><rect class="k" x="482.37" y="-7.2" width="11.18" height="8.13"/></g>
</g>
<g transform="translate(0,1174.6) scale(1,1.045)"><text><tspan x="1100.2" y="0" font-size="58.5">T</tspan><tspan x="1134" y="0" font-size="58.5">, </tspan><tspan x="1166.1" y="-5.07" font-size="64.5">°</tspan><tspan x="1190.4" y="0" font-size="58.5">C</tspan></text></g>
<g transform="translate(441.4,0) rotate(-90) scale(1,1.0)"><text><tspan x="-454.72" y="0" font-size="59.5">mol </tspan><tspan x="-333.78" y="0" font-size="59.5">H</tspan><tspan x="-290.86" y="22.1" font-size="59.5">2 </tspan><tspan x="-240.44" y="0" font-size="59.5">g</tspan><tspan class="r" x="-207.59" y="-24.39" font-size="62.6">−</tspan><tspan x="-174.11" y="-30.7" font-size="62">1</tspan><tspan x="-142.19" y="0" font-size="59.5">s</tspan><tspan class="r" x="-111.05" y="-23.98" font-size="63.8">−</tspan><tspan x="-76.91" y="-30.7" font-size="62">1</tspan></text><rect class="k" x="-172.25" y="-37.73" width="12.31" height="7.93"/><rect class="k" x="-150.83" y="-37.73" width="10.82" height="7.93"/><rect class="k" x="-75.05" y="-37.73" width="12.31" height="7.93"/><rect class="k" x="-53.63" y="-37.73" width="10.82" height="7.93"/></g>
</svg></body></html>
